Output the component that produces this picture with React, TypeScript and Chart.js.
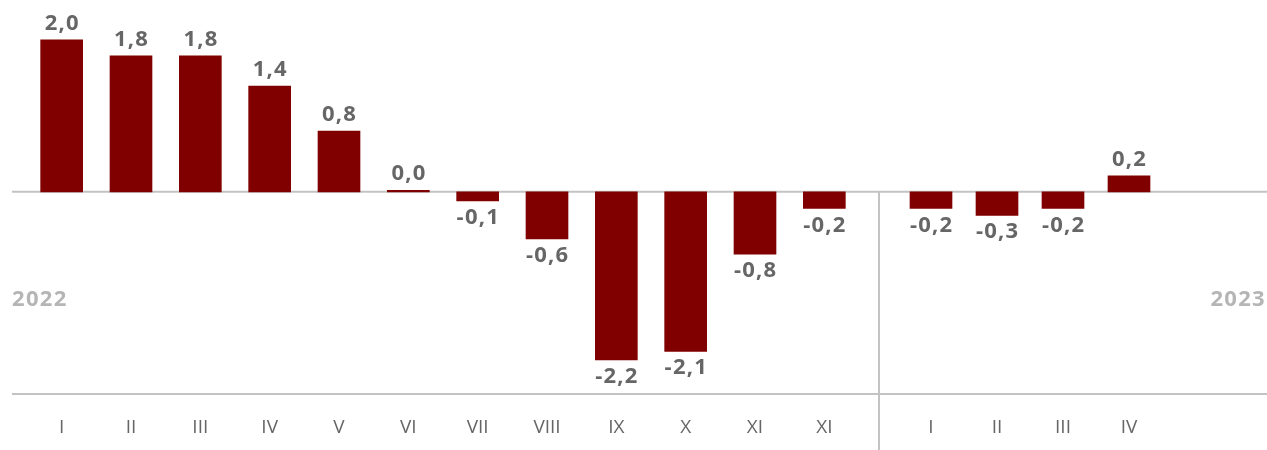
import React, { useEffect, useRef } from "react";
import { Chart, registerables } from "chart.js";

Chart.register(...registerables);

const labels2022 = ["I", "II", "III", "IV", "V", "VI", "VII", "VIII", "IX", "X", "XI", "XI"];
const values2022 = [2.0, 1.79, 1.79, 1.39, 0.8, 0.02, -0.12, -0.62, -2.21, -2.1, -0.82, -0.22];
const labels2023 = ["I", "II", "III", "IV"];
const values2023 = [-0.22, -0.31, -0.22, 0.21];
const yearLabels = ["2022", "2023"];

const BAR_COLOR = "#800000";
const LINE_COLOR = "#c3c3c3";
const LABEL_COLOR = "#666666";
const TICK_COLOR = "#666666";
const YEAR_COLOR = "#b5b5b5";
const FONT = "'Open Sans', 'Noto Sans', sans-serif";
const Y_MIN = -2.66;
const Y_MAX = 2.3;

function fmt(v: number): string {
  return v.toFixed(1).replace(".", ",");
}

function makePlugin(opts: { lineFrom: number; year: string; yearAlign: "left" | "right"; yearX: (w: number) => number; separatorX?: number }) {
  return {
    id: "decor",
    beforeDatasetsDraw(chart: any) {
      const { ctx, scales, width, height } = chart;
      const zeroY = scales.y.getPixelForValue(0);
      const bottomY = chart.chartArea.bottom;
      ctx.save();
      ctx.strokeStyle = LINE_COLOR;
      ctx.lineWidth = 2;
      ctx.beginPath();
      ctx.moveTo(opts.lineFrom, zeroY);
      ctx.lineTo(width, zeroY);
      ctx.moveTo(opts.lineFrom, bottomY);
      ctx.lineTo(width, bottomY);
      if (opts.separatorX !== undefined) {
        ctx.moveTo(opts.separatorX, zeroY - 1);
        ctx.lineTo(opts.separatorX, height);
      }
      ctx.stroke();
      ctx.fillStyle = YEAR_COLOR;
      ctx.font = `700 22px ${FONT}`;
      (ctx as any).letterSpacing = "1.3px";
      ctx.textAlign = opts.yearAlign;
      ctx.textBaseline = "alphabetic";
      ctx.fillText(opts.year, opts.yearX(width), 306);
      ctx.restore();
    },
    afterDatasetsDraw(chart: any) {
      const { ctx } = chart;
      const meta = chart.getDatasetMeta(0);
      const data = chart.data.datasets[0].data as number[];
      ctx.save();
      ctx.fillStyle = LABEL_COLOR;
      ctx.font = `700 22px ${FONT}`;
      (ctx as any).letterSpacing = "1.2px";
      ctx.textAlign = "center";
      ctx.textBaseline = "alphabetic";
      meta.data.forEach((bar: any, i: number) => {
        const v = data[i];
        const { x, y, base } = bar.getProps(["x", "y", "base"], true);
        if (v >= 0) {
          ctx.fillText(fmt(v), x + 0.6, Math.min(y, base) - 10);
        } else {
          ctx.fillText(fmt(v), x + 0.6, Math.max(y, base) + 23);
        }
      });
      ctx.restore();
    },
  };
}

function buildConfig(labels: string[], values: number[], padLeft: number, padRight: number, plugin: any): any {
  return {
    type: "bar",
    data: {
      labels,
      datasets: [
        {
          data: values,
          backgroundColor: BAR_COLOR,
          borderWidth: 0,
          barThickness: 42,
        },
      ],
    },
    options: {
      responsive: false,
      animation: false,
      devicePixelRatio: 1,
      layout: { padding: { top: 17, bottom: 0, left: padLeft, right: padRight } },
      plugins: { legend: { display: false }, tooltip: { enabled: false } },
      scales: {
        x: {
          grid: { display: false, drawTicks: false },
          border: { display: false },
          ticks: {
            color: TICK_COLOR,
            font: { family: FONT, size: 19, weight: "400" },
            padding: 22,
            maxRotation: 0,
            autoSkip: false,
          },
          afterFit: (scale: any) => {
            scale.height = 56;
          },
        },
        y: {
          display: false,
          min: Y_MIN,
          max: Y_MAX,
        },
      },
    },
    plugins: [plugin],
  };
}

export default function App() {
  const leftRef = useRef<HTMLCanvasElement>(null);
  const rightRef = useRef<HTMLCanvasElement>(null);

  useEffect(() => {
    const left = new Chart(
      leftRef.current!,
      buildConfig(
        labels2022,
        values2022,
        27,
        21,
        makePlugin({ lineFrom: 12, year: yearLabels[0], yearAlign: "left", yearX: () => 12, separatorX: 879 })
      )
    );
    const right = new Chart(
      rightRef.current!,
      buildConfig(
        labels2023,
        values2023,
        18,
        105,
        makePlugin({ lineFrom: 0, year: yearLabels[1], yearAlign: "right", yearX: (w) => w - 1 })
      )
    );
    return () => {
      left.destroy();
      right.destroy();
    };
  }, []);

  return (
    <div style={{ position: "absolute", left: 0, top: 0, width: 1267, height: 450, background: "#fff" }}>
      <canvas ref={leftRef} width={880} height={450} style={{ position: "absolute", left: 0, top: 0 }} />
      <canvas ref={rightRef} width={387} height={450} style={{ position: "absolute", left: 880, top: 0 }} />
    </div>
  );
}
